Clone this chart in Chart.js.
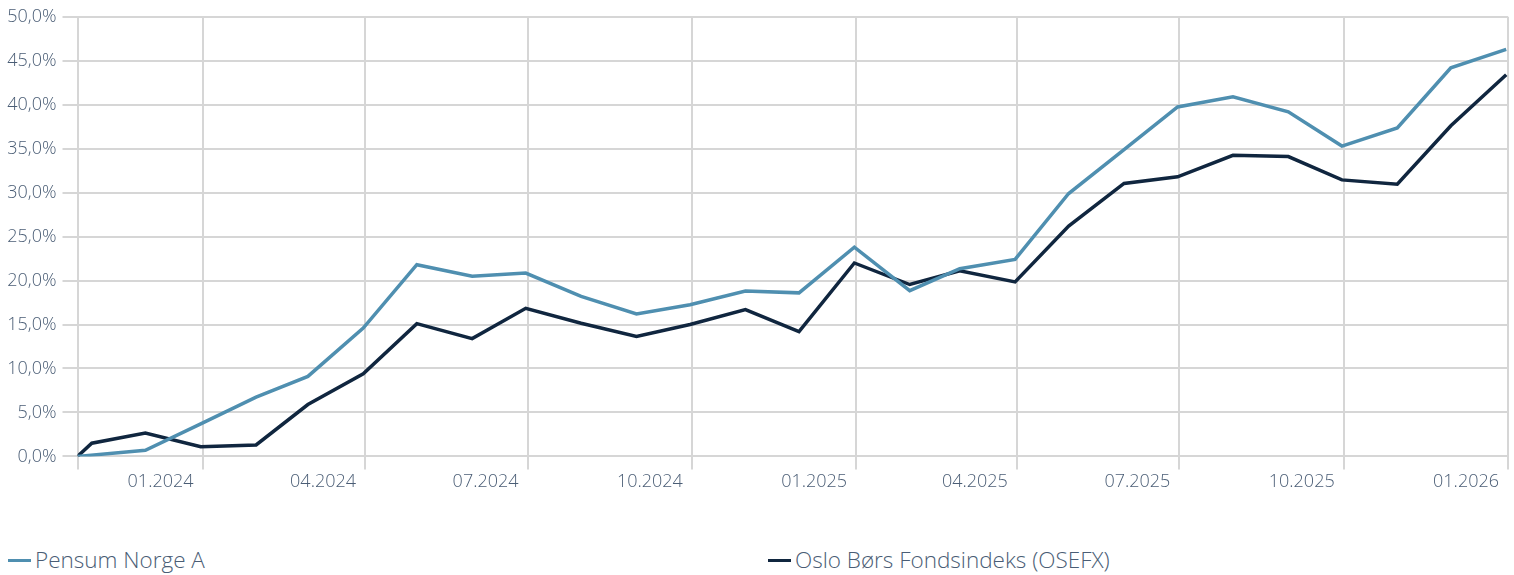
<!DOCTYPE html>
<html>
<head>
<meta charset="utf-8">
<script src="https://cdn.jsdelivr.net/npm/chart.js@4/dist/chart.umd.min.js"></script>
<style>
  html, body { margin: 0; padding: 0; background: #fff; }
  body { width: 1514px; height: 575px; position: relative; overflow: hidden;
         font-family: "Open Sans", "Noto Sans", sans-serif; font-weight: 300; color: #4a5d75; }
  #wrap { position: absolute; left: 0; top: 0; width: 1514px; height: 495px; }
  .leg { position: absolute; top: 545px; font-size: 22.5px; line-height: 30px; white-space: nowrap; }
  .leg i { display: inline-block; width: 23px; height: 3px; vertical-align: middle; margin-right: 4px; position: relative; top: -1px; }
</style>
</head>
<body>
<div id="wrap"><canvas id="chart-return"></canvas></div>
<div id="legend"></div>

<script>
// Verdiutvikling i prosent, månedsslutt
const monthEnds = [
  '2023-11-30','2023-12-31',
  '2024-01-31','2024-02-29','2024-03-31','2024-04-30','2024-05-31','2024-06-30',
  '2024-07-31','2024-08-31','2024-09-30','2024-10-31','2024-11-30','2024-12-31',
  '2025-01-31','2025-02-28','2025-03-31','2025-04-30','2025-05-31','2025-06-30',
  '2025-07-31','2025-08-31','2025-09-30','2025-10-31','2025-11-30','2025-12-31'
];
const startDate = '2023-10-23';
const pensumDates = [startDate, ...monthEnds];
const osefxDates = [startDate, '2023-10-31', ...monthEnds];

const pensumValues = [0, 0.7, 3.7, 6.75, 9.1, 14.6, 21.8, 20.5, 20.85, 18.2, 16.2, 17.25, 18.8, 18.6,
  23.8, 18.85, 21.35, 22.4, 29.9, 34.9, 39.75, 40.9, 39.2, 35.3, 37.35, 44.2, 46.3];
const osefxValues = [0, 1.5, 2.65, 1.1, 1.3, 5.9, 9.4, 15.1, 13.4, 16.85, 15.15, 13.65, 15.0, 16.7, 14.2,
  22.0, 19.55, 21.1, 19.85, 26.2, 31.05, 31.8, 34.25, 34.1, 31.45, 30.95, 37.6, 43.4];

const seriesNames = ['Pensum Norge A', 'Oslo Børs Fondsindeks (OSEFX)'];
const seriesColors = ['#4f8fb0', '#10263f'];
const xTickLabels = ['01.2024','04.2024','07.2024','10.2024','01.2025','04.2025','07.2025','10.2025','01.2026'];

const TEXT = '#4a5d75';
const GRID = '#d6d6d6';
const FONT = '"Open Sans", "Noto Sans", sans-serif';

function toTime(s){ return Date.parse(s); }
function labelTime(l){ const [m, y] = l.split('.'); return Date.UTC(+y, +m - 1, 1); }
function pts(dates, vals){ return dates.map((d, i) => ({ x: toTime(d), y: vals[i] })); }

const xMin = toTime(startDate);
const xMax = labelTime(xTickLabels[xTickLabels.length - 1]);
const tickTimes = [xMin, ...xTickLabels.map(labelTime)];

function initChart(){
  const el = document.getElementById('chart-return');
  new Chart(el, {
    type: 'line',
    data: {
      datasets: [
        { label: seriesNames[0], data: pts(pensumDates, pensumValues), borderColor: seriesColors[0] },
        { label: seriesNames[1], data: pts(osefxDates, osefxValues), borderColor: seriesColors[1] }
      ]
    },
    options: {
      responsive: true,
      maintainAspectRatio: false,
      animation: false,
      layout: { padding: { top: 5, right: 6, left: 0, bottom: 0 } },
      elements: {
        line: { borderWidth: 3.5, tension: 0, fill: false, borderJoinStyle: 'miter' },
        point: { radius: 0 }
      },
      plugins: { legend: { display: false }, tooltip: { enabled: false } },
      scales: {
        x: {
          type: 'linear',
          min: xMin, max: xMax,
          afterBuildTicks: s => { s.ticks = tickTimes.map(v => ({ value: v })); },
          grid: { color: GRID, lineWidth: 2, tickLength: 13, drawTicks: true },
          border: { display: false },
          ticks: {
            autoSkip: false, maxRotation: 0, align: 'end', labelOffset: -9, padding: 2,
            color: TEXT, font: { family: FONT, size: 18, weight: 300 },
            callback: v => {
              const i = tickTimes.indexOf(v);
              return i > 0 ? xTickLabels[i - 1] : '';
            }
          }
        },
        y: {
          min: 0, max: 50,
          afterFit: s => { s.width = 77.5; },
          grid: { color: GRID, lineWidth: 2, tickLength: 15 },
          border: { display: false },
          ticks: {
            stepSize: 5, padding: 6, color: TEXT, font: { family: FONT, size: 18, weight: 300 },
            callback: v => v.toFixed(1).replace('.', ',') + '%'
          }
        }
      }
    }
  });
}

function initLegend(){
  const box = document.getElementById('legend');
  const lefts = [8, 768];
  seriesNames.forEach((n, i) => {
    const d = document.createElement('div');
    d.className = 'leg';
    d.style.left = lefts[i] + 'px';
    d.innerHTML = '<i style="background:' + seriesColors[i] + '"></i>' + n;
    box.appendChild(d);
  });
}

initChart();
initLegend();
</script>
</body>
</html>
